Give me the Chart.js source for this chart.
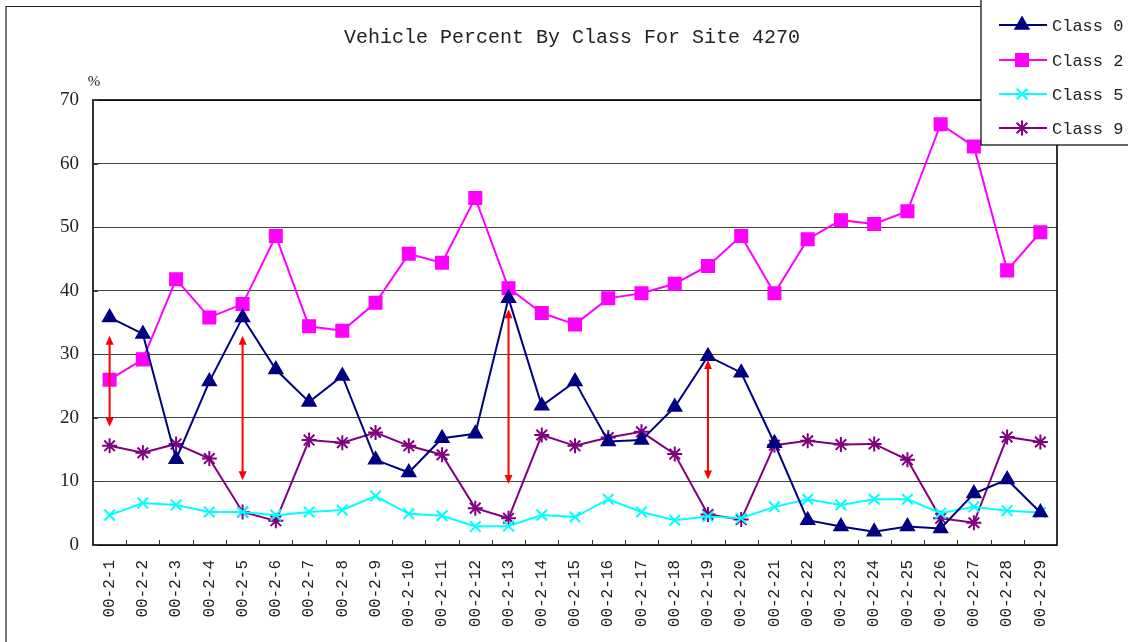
<!DOCTYPE html>
<html>
<head>
<meta charset="utf-8">
<script src="https://cdn.jsdelivr.net/npm/chart.js@4.4.1/dist/chart.umd.min.js"></script>
<style>
  html, body { margin: 0; padding: 0; background: #fff; }
  #wrap { width: 1128px; height: 642px; position: relative; }
</style>
</head>
<body>
<div id="wrap"><canvas id="classChart" width="1128" height="642"></canvas></div>
<script>
// days of Feb 2000
const days = [];
for (let d = 1; d <= 29; d++) days.push('00-2-' + d);

const class0 = [35.8, 33.2, 13.5, 25.7, 35.8, 27.6, 22.5, 26.6, 13.4, 11.4,
                16.8, 17.5, 38.8, 21.9, 25.7, 16.3, 16.5, 21.7, 29.7, 27.1,
                16.0, 3.9, 2.9, 2.1, 2.9, 2.6, 8.1, 10.3, 5.1];
const class2 = [26.0, 29.2, 41.8, 35.8, 37.9, 48.6, 34.4, 33.7, 38.1, 45.8,
                44.4, 54.6, 40.4, 36.5, 34.7, 38.8, 39.6, 41.1, 43.9, 48.6,
                39.6, 48.1, 51.1, 50.5, 52.5, 66.2, 62.7, 43.2, 49.2];
const class5 = [4.7, 6.6, 6.3, 5.2, 5.2, 4.7, 5.2, 5.5, 7.7, 4.9,
                4.6, 2.9, 3.0, 4.7, 4.4, 7.2, 5.2, 3.9, 4.5, 4.2,
                6.0, 7.2, 6.3, 7.2, 7.2, 5.0, 6.0, 5.4, 5.1];
const class9 = [15.6, 14.5, 15.9, 13.6, 5.2, 3.8, 16.5, 16.1, 17.7, 15.6,
                14.2, 5.8, 4.2, 17.3, 15.6, 16.9, 17.8, 14.3, 4.8, 4.0,
                15.7, 16.4, 15.8, 15.9, 13.4, 4.2, 3.5, 17.0, 16.2];

// red double arrows (category index, top value, bottom value)
const arrowDays = [0, 4, 12, 18];
const arrowTop = [32.9, 32.9, 37.1, 29.1];
const arrowBottom = [18.6, 10.2, 9.6, 10.3];

const yTicks = [0, 10, 20, 30, 40, 50, 60, 70];

const monoFont = '"Liberation Mono", "DejaVu Sans Mono", monospace';

function drawArrowHead(ctx, x, y, dir) {
    ctx.beginPath();
    ctx.moveTo(x, y);
    ctx.lineTo(x - 4, y - dir * 9);
    ctx.lineTo(x + 4, y - dir * 9);
    ctx.closePath();
    ctx.fill();
}

const decorPlugin = {
    id: 'decor',
    afterDraw(chart) {
        const ctx = chart.ctx;
        const area = chart.chartArea;
        const xs = chart.scales.x;
        const ys = chart.scales.y;
        ctx.save();

        // outer frame
        ctx.strokeStyle = '#222';
        ctx.lineWidth = 1.2;
        ctx.beginPath();
        ctx.moveTo(6, 642);
        ctx.lineTo(6, 6.5);
        ctx.lineTo(1128, 6.5);
        ctx.stroke();

        // plot border
        ctx.strokeStyle = '#000';
        ctx.lineWidth = 1.6;
        ctx.strokeRect(area.left, area.top, area.right - area.left, area.bottom - area.top);

        // inner tick marks
        ctx.lineWidth = 1;
        ctx.strokeStyle = '#333';
        ctx.beginPath();
        for (let i = 1; i < days.length; i++) {
            const x = Math.round((xs.getPixelForValue(i - 1) + xs.getPixelForValue(i)) / 2) + 0.5;
            ctx.moveTo(x, area.bottom);
            ctx.lineTo(x, area.bottom - 5);
        }
        yTicks.forEach(v => {
            const y = Math.round(ys.getPixelForValue(v)) + 0.5;
            ctx.moveTo(area.left, y);
            ctx.lineTo(area.left + 5, y);
        });
        ctx.stroke();

        // title and unit
        ctx.fillStyle = '#222';
        ctx.font = '20px ' + monoFont;
        ctx.textAlign = 'center';
        ctx.textBaseline = 'middle';
        ctx.fillText('Vehicle Percent By Class For Site 4270', 572, 38);
        ctx.font = '15px "Liberation Serif", serif';
        ctx.fillText('%', 94, 82);

        // red arrows
        ctx.strokeStyle = '#ff0000';
        ctx.fillStyle = '#ff0000';
        ctx.lineWidth = 2;
        arrowDays.forEach((d, i) => {
            const x = xs.getPixelForValue(d);
            const y1 = ys.getPixelForValue(arrowTop[i]);
            const y2 = ys.getPixelForValue(arrowBottom[i]);
            ctx.beginPath();
            ctx.moveTo(x, y1 + 6);
            ctx.lineTo(x, y2 - 6);
            ctx.stroke();
            drawArrowHead(ctx, x, y1, -1);
            drawArrowHead(ctx, x, y2, 1);
        });

        // legend box
        ctx.fillStyle = '#fff';
        ctx.fillRect(981, 0, 160, 145);
        ctx.strokeStyle = '#000';
        ctx.lineWidth = 1.2;
        ctx.strokeRect(981, -2, 160, 147);
        const rows = [25, 60, 94, 128];
        chart.data.datasets.forEach((ds, i) => {
            const y = rows[i];
            ctx.strokeStyle = ds.borderColor;
            ctx.lineWidth = 2;
            ctx.beginPath();
            ctx.moveTo(999, y);
            ctx.lineTo(1047, y);
            ctx.stroke();
            ctx.fillStyle = ds.pointBackgroundColor;
            ctx.strokeStyle = ds.pointBorderColor;
            Chart.helpers.drawPoint(ctx, {
                pointStyle: ds.pointStyle,
                radius: ds.pointRadius,
                borderWidth: ds.pointBorderWidth,
                rotation: 0
            }, 1022, y);
            ctx.fillStyle = '#222';
            ctx.font = '17px ' + monoFont;
            ctx.textAlign = 'left';
            ctx.textBaseline = 'middle';
            ctx.fillText(ds.label, 1052, y + 1);
        });

        ctx.restore();
    }
};

function series(label, data, color, style, radius) {
    return {
        label: label,
        data: data,
        borderColor: color,
        backgroundColor: color,
        borderWidth: 2,
        pointStyle: style,
        pointRadius: radius,
        pointBackgroundColor: color,
        pointBorderColor: color,
        pointBorderWidth: 2,
        tension: 0,
        fill: false
    };
}

const ctx = document.getElementById('classChart').getContext('2d');
const classChart = new Chart(ctx, {
    type: 'line',
    data: {
        labels: days,
        datasets: [
            series('Class 0', class0, '#000080', 'triangle', 7.5),
            series('Class 2', class2, '#ff00ff', 'rect', 8.5),
            series('Class 5', class5, '#00ffff', 'crossRot', 7.5),
            series('Class 9', class9, '#800080', 'star', 7.5)
        ]
    },
    options: {
        responsive: false,
        animation: false,
        devicePixelRatio: 1,
        layout: { padding: { top: 100, right: 71, left: 0, bottom: 0 } },
        plugins: {
            legend: { display: false },
            title: { display: false },
            tooltip: { enabled: false }
        },
        scales: {
            x: {
                type: 'category',
                offset: true,
                grid: { display: false, drawTicks: false },
                border: { display: false },
                ticks: {
                    autoSkip: false,
                    maxRotation: 90,
                    minRotation: 90,
                    padding: 15,
                    color: '#222',
                    font: { family: monoFont, size: 16 }
                },
                afterFit(scale) { scale.height = 97; }
            },
            y: {
                min: 0,
                max: 70,
                afterBuildTicks(scale) { scale.ticks = yTicks.map(v => ({ value: v })); },
                grid: { color: '#444', lineWidth: 1, drawTicks: false },
                border: { display: false },
                ticks: {
                    padding: 14,
                    color: '#222',
                    font: { family: '"Liberation Serif", serif', size: 19 }
                },
                afterFit(scale) { scale.width = 93; }
            }
        }
    },
    plugins: [decorPlugin]
});
</script>
</body>
</html>
